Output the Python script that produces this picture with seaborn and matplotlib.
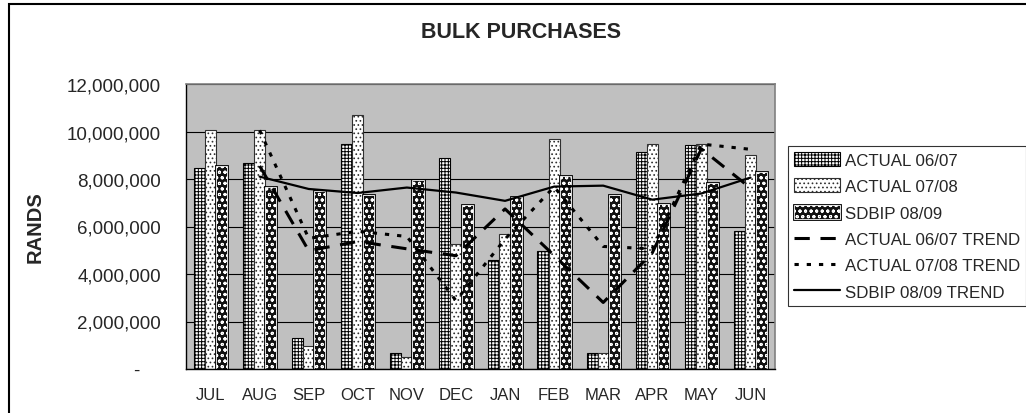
import numpy as np
import pandas as pd
import matplotlib
matplotlib.use("Agg")
import matplotlib.pyplot as plt
import matplotlib.patheffects as pe
from matplotlib.patches import Patch, Rectangle
from matplotlib.lines import Line2D
from matplotlib.ticker import FuncFormatter
import seaborn as sns

months = ["JUL", "AUG", "SEP", "OCT", "NOV", "DEC", "JAN", "FEB", "MAR", "APR", "MAY", "JUN"]
actual_0607 = [8.45, 8.66, 1.29, 9.46, 0.66, 8.88, 4.60, 4.95, 0.66, 9.12, 9.42, 5.82]
actual_0708 = [10.05, 10.05, 0.95, 10.68, 0.49, 5.26, 5.67, 9.67, 0.66, 9.46, 9.47, 9.02]
sdbip_0809 = [8.53, 7.68, 7.49, 7.33, 7.96, 6.91, 7.26, 8.11, 7.33, 6.93, 7.85, 8.28]
# trend lines (2 period moving average, start at AUG)
trend_0607 = [8.55, 4.98, 5.37, 5.06, 4.77, 6.74, 4.78, 2.80, 4.89, 9.27, 7.62]
trend_0708 = [10.05, 5.50, 5.80, 5.58, 2.88, 5.47, 7.67, 5.16, 5.06, 9.47, 9.25]
trend_0809 = [8.10, 7.58, 7.41, 7.64, 7.43, 7.08, 7.68, 7.72, 7.13, 7.39, 8.06]
series = ["ACTUAL 06/07", "ACTUAL 07/08", "SDBIP 08/09"]

df = pd.DataFrame({
    "month": months * 3,
    "value": np.array(actual_0607 + actual_0708 + sdbip_0809) * 1e6,
    "series": np.repeat(series, len(months)),
})

sns.set_style("white")
plt.rcParams["font.family"] = ["Liberation Sans", "DejaVu Sans"]
plt.rcParams["hatch.linewidth"] = 0.7

fig = plt.figure(figsize=(10.26, 4.14), dpi=100)
ax = fig.add_axes([186 / 1026, 44 / 414, 589 / 1026, 285 / 414])
ax.set_facecolor("#C0C0C0")

sns.barplot(data=df, x="month", y="value", hue="series", order=months,
            hue_order=series, width=0.68, edgecolor="black", linewidth=0.8,
            palette=["white", "white", "black"], legend=False, ax=ax, zorder=2)

hatches = ["+++++", "....", "ooo"]
for i, cont in enumerate(ax.containers):
    for bar in cont:
        bar.set_hatch(hatches[i])
        if i == 1:
            bar.set_edgecolor("#303030")
        if i == 2:
            bar.set_facecolor("#111111")
            bar.set_edgecolor("white")
            bar.set_linewidth(0.6)
            bar.set_path_effects([pe.Stroke(linewidth=2.0, foreground="black"), pe.Normal()])

xs = np.arange(1, len(months))
sns.lineplot(x=xs, y=np.array(trend_0607) * 1e6, ax=ax, color="black", lw=2.2,
             zorder=4).lines[-1].set_dashes([5, 3.5])
sns.lineplot(x=xs, y=np.array(trend_0708) * 1e6, ax=ax, color="black", lw=2.2,
             zorder=4).lines[-1].set_dashes([1.4, 2.6])
sns.lineplot(x=xs, y=np.array(trend_0809) * 1e6, ax=ax, color="black", lw=1.6, zorder=4)

ax.set_xlim(-0.5, len(months) - 0.5)
ax.set_ylim(0, 12e6)
ax.set_yticks(np.arange(0, 12e6 + 1, 2e6))
ax.yaxis.set_major_formatter(FuncFormatter(lambda v, p: "-    " if v == 0 else f"{v:,.0f}"))
ax.grid(axis="y", color="black", lw=0.8, zorder=1)
ax.set_axisbelow(True)
ax.set_xticks(np.arange(len(months)))
ax.set_xticklabels(months)
ax.set_xticks(np.arange(-0.5, len(months)), minor=True)
ax.tick_params(axis="x", which="major", length=0, pad=13, labelsize=12)
ax.tick_params(axis="x", which="minor", length=5, width=0.8, color="black", direction="out")
ax.tick_params(axis="y", length=6, width=0.8, color="black", direction="out", pad=12, labelsize=13.5)
ax.set_xlabel("")
ax.set_ylabel("RANDS", fontsize=14.5, fontweight="bold", labelpad=16)
for s in ["left", "bottom"]:
    ax.spines[s].set_color("black")
    ax.spines[s].set_linewidth(1.0)
for s in ["top", "right"]:
    ax.spines[s].set_color("#808080")
    ax.spines[s].set_linewidth(1.2)

fig.text(521 / 1026, 1 - 33 / 414, "BULK PURCHASES", ha="center", va="center",
         fontsize=15.5, fontweight="bold")

handles = [
    Patch(facecolor="white", edgecolor="black", hatch=hatches[0], lw=0.8),
    Patch(facecolor="white", edgecolor="#303030", hatch=hatches[1], lw=0.8),
    Patch(facecolor="#111111", edgecolor="white", hatch=hatches[2], lw=0.6,
          path_effects=[pe.Stroke(linewidth=2.0, foreground="black"), pe.Normal()]),
    Line2D([], [], color="black", lw=2.2, dashes=[5, 3.5]),
    Line2D([], [], color="black", lw=2.2, dashes=[1.4, 2.6]),
    Line2D([], [], color="black", lw=1.6),
]
labels = series + [s + " TREND" for s in series]
leg = fig.legend(handles, labels, loc="upper left", bbox_to_anchor=(788 / 1026, 1 - 147 / 414),
                 frameon=True, fancybox=False, edgecolor="black", fontsize=12.2,
                 handlelength=2.7, handleheight=0.9, handletextpad=0.3, labelspacing=0.62,
                 borderpad=0.35, borderaxespad=0)
leg.get_frame().set_linewidth(0.8)

fig.patches.append(Rectangle((9 / 1026, -0.2), 1.2, 1.2 - 5 / 414, transform=fig.transFigure,
                             fill=False, edgecolor="black", lw=1.5))

fig.savefig("out.png", dpi=100)
